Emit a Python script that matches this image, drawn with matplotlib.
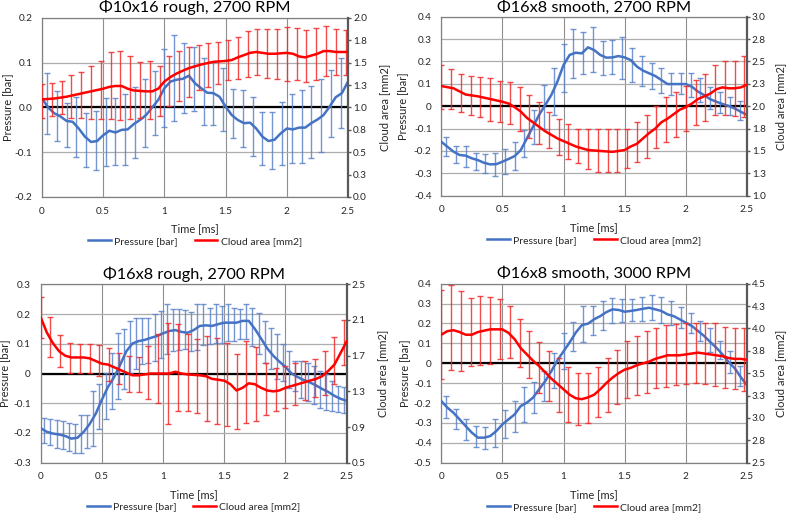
import matplotlib
matplotlib.use("Agg")
import matplotlib.pyplot as plt
from matplotlib.lines import Line2D
import numpy as np

plt.rcParams["font.family"] = ["Lato", "DejaVu Sans"]

BLUE = "#4472C4"
BLUE_ERR = "#5B84CC"
RED = "#FF0000"
RED_ERR = "#F22A2A"
GRID_V = "#8F8F8F"
GRID_H = "#ADADAD"
TXT = "#262626"

X_TICKS = [0, 0.5, 1, 1.5, 2, 2.5]
X_LABELS = ["0", "0.5", "1", "1.5", "2", "2.5"]

# sampling times
T_LINE = [0.00, 0.05, 0.10, 0.15, 0.20, 0.25, 0.30, 0.35, 0.40, 0.45,
          0.50, 0.55, 0.60, 0.65, 0.70, 0.75, 0.80, 0.85, 0.90, 0.95,
          1.00, 1.05, 1.10, 1.15, 1.20, 1.25, 1.30, 1.35, 1.40, 1.45,
          1.50, 1.55, 1.60, 1.65, 1.70, 1.75, 1.80, 1.85, 1.90, 1.95,
          2.00, 2.05, 2.10, 2.15, 2.20, 2.25, 2.30, 2.35, 2.40, 2.45, 2.50]
T_ERR_P = [0.04, 0.12, 0.20, 0.28, 0.36, 0.44, 0.52, 0.60, 0.68, 0.76,
           0.84, 0.92, 1.00, 1.08, 1.16, 1.24, 1.32, 1.40, 1.48, 1.56,
           1.64, 1.72, 1.80, 1.88, 1.96, 2.04, 2.12, 2.20, 2.28, 2.36, 2.44]
T_ERR_C = [0.00, 0.08, 0.16, 0.24, 0.32, 0.40, 0.48, 0.56, 0.64, 0.72,
           0.80, 0.88, 0.96, 1.04, 1.12, 1.20, 1.28, 1.36, 1.44, 1.52,
           1.60, 1.68, 1.76, 1.84, 1.92, 2.00, 2.08, 2.16, 2.24, 2.32,
           2.40, 2.48]
T_ERR_DENSE = [0.03, 0.08, 0.13, 0.18, 0.23, 0.28, 0.33, 0.38, 0.43, 0.48,
               0.53, 0.58, 0.63, 0.68, 0.73, 0.78, 0.83, 0.88, 0.93, 0.98,
               1.03, 1.08, 1.13, 1.18, 1.23, 1.28, 1.33, 1.38, 1.43, 1.48,
               1.53, 1.58, 1.63, 1.68, 1.73, 1.78, 1.83, 1.88, 1.93, 1.98,
               2.03, 2.08, 2.13, 2.18, 2.23, 2.28, 2.33, 2.38, 2.43, 2.48]

# ---------------- panel 1 ----------------
P1_TITLE = "Φ10x16 rough, 2700 RPM"
P1_PRES = [0.020, 0.000, -0.013, -0.020, -0.030, -0.032, -0.047, -0.065, -0.077, -0.075,
           -0.062, -0.052, -0.056, -0.050, -0.049, -0.037, -0.028, -0.017, 0.000, 0.017,
           0.043, 0.058, 0.062, 0.064, 0.071, 0.054, 0.043, 0.033, 0.032, 0.024,
           0.002, -0.017, -0.028, -0.035, -0.034, -0.047, -0.065, -0.075, -0.072, -0.058,
           -0.047, -0.049, -0.045, -0.045, -0.035, -0.027, -0.017, 0.002, 0.023, 0.032, 0.058]
P1_PRES_HI = [0.078, 0.037, 0.009, 0.023, -0.012, -0.008, 0.021, 0.021, 0.030, 0.045,
              0.064, 0.082, 0.131, 0.163, 0.145, 0.136, 0.110, 0.101, 0.089, 0.041,
              0.038, 0.024, -0.009, -0.009, 0.012, 0.030, 0.038, 0.048, 0.064, 0.083, 0.110]
P1_PRES_LO = [-0.059, -0.074, -0.088, -0.110, -0.134, -0.140, -0.131, -0.129, -0.129, -0.112,
              -0.089, -0.062, -0.044, -0.030, -0.013, -0.008, -0.039, -0.039, -0.053, -0.069,
              -0.088, -0.109, -0.129, -0.138, -0.128, -0.124, -0.123, -0.113, -0.099, -0.065, -0.045]
P1_CLOUD_T = [0, 0.1, 0.2, 0.3, 0.4, 0.5, 0.55, 0.6, 0.65, 0.7, 0.75, 0.8, 0.85, 0.9,
              0.95, 1.0, 1.05, 1.1, 1.15, 1.2, 1.3, 1.4, 1.5, 1.55, 1.6, 1.7, 1.75, 1.8,
              1.85, 1.9, 2.0, 2.05, 2.1, 2.15, 2.2, 2.25, 2.3, 2.35, 2.4, 2.5]
P1_CLOUD = [1.09, 1.10, 1.12, 1.15, 1.18, 1.21, 1.23, 1.24, 1.24, 1.21, 1.19, 1.185, 1.18, 1.18,
            1.21, 1.29, 1.34, 1.38, 1.41, 1.44, 1.48, 1.51, 1.52, 1.53, 1.56, 1.61, 1.62, 1.61,
            1.60, 1.60, 1.61, 1.60, 1.57, 1.56, 1.58, 1.60, 1.63, 1.63, 1.62, 1.62]
P1_CLOUD_HI = [1.26, 1.27, 1.30, 1.36, 1.40, 1.46, 1.52, 1.62, 1.63, 1.57, 1.51, 1.52, 1.46, 1.57,
               1.63, 1.67, 1.70, 1.72, 1.73, 1.75, 1.79, 1.85, 1.88, 1.88, 1.88, 1.90, 1.89, 1.87,
               1.89, 1.91, 1.88, 1.86]
P1_CLOUD_LO = [0.88, 0.90, 0.93, 0.88, 0.88, 0.87, 0.87, 0.87, 0.86, 0.87, 0.88, 0.87, 0.90, 1.02,
               1.07, 1.12, 1.20, 1.23, 1.26, 1.31, 1.32, 1.34, 1.36, 1.33, 1.32, 1.30, 1.31, 1.29,
               1.31, 1.35, 1.36, 1.36]
P1_LEFT_TICKS = [-0.2, -0.1, 0.0, 0.1, 0.2]
P1_LEFT_LABELS = ["-0.2", "-0.1", "0.0", "0.1", "0.2"]
P1_RIGHT_TICKS = [0.0, 0.25, 0.5, 0.75, 1.0, 1.25, 1.5, 1.75, 2.0]
P1_RIGHT_LABELS = ["0.0", "0.3", "0.5", "0.8", "1.0", "1.3", "1.5", "1.8", "2.0"]

# ---------------- panel 2 ----------------
P2_TITLE = "Φ16x8 smooth, 2700 RPM"
P2_PRES = [-0.159, -0.181, -0.203, -0.218, -0.221, -0.233, -0.241, -0.253, -0.260, -0.259,
           -0.248, -0.236, -0.223, -0.196, -0.144, -0.092, -0.039, 0.005, 0.050, 0.110,
           0.184, 0.229, 0.239, 0.236, 0.263, 0.251, 0.229, 0.217, 0.218, 0.224,
           0.218, 0.206, 0.177, 0.159, 0.147, 0.135, 0.117, 0.099, 0.099, 0.099,
           0.099, 0.087, 0.065, 0.050, 0.031, 0.020, 0.010, 0.001, -0.010, -0.025, -0.039]
P2_PRES_HI = [-0.136, -0.177, -0.179, -0.208, -0.214, -0.208, -0.192, -0.162, -0.107, -0.017,
              0.095, 0.172, 0.276, 0.343, 0.330, 0.352, 0.290, 0.297, 0.307, 0.260,
              0.223, 0.195, 0.170, 0.150, 0.150, 0.147, 0.124, 0.087, 0.062, 0.042, 0.022]
P2_PRES_LO = [-0.221, -0.256, -0.271, -0.286, -0.300, -0.311, -0.303, -0.286, -0.229, -0.169,
              -0.104, -0.039, 0.065, 0.124, 0.144, 0.154, 0.140, 0.145, 0.122, 0.109,
              0.090, 0.077, 0.060, 0.052, 0.055, 0.040, 0.018, -0.012, -0.030, -0.040, -0.062]
P2_CLOUD_T = [0, 0.1, 0.2, 0.3, 0.4, 0.5, 0.55, 0.6, 0.65, 0.7, 0.75, 0.8, 0.85, 0.9,
              0.95, 1.0, 1.05, 1.1, 1.15, 1.2, 1.3, 1.4, 1.5, 1.55, 1.6, 1.65, 1.7, 1.75,
              1.8, 1.85, 1.9, 1.95, 2.0, 2.05, 2.1, 2.15, 2.2, 2.25, 2.3, 2.35, 2.4, 2.45, 2.5]
P2_CLOUD = [2.225, 2.20, 2.13, 2.11, 2.08, 2.05, 2.03, 1.99, 1.94, 1.87, 1.82, 1.77, 1.72, 1.68,
            1.64, 1.61, 1.58, 1.55, 1.53, 1.51, 1.50, 1.49, 1.51, 1.55, 1.58, 1.64, 1.70, 1.75,
            1.82, 1.86, 1.91, 1.96, 1.99, 2.03, 2.08, 2.11, 2.14, 2.19, 2.21, 2.20, 2.20, 2.21, 2.24]
P2_CLOUD_HI = [2.46, 2.41, 2.36, 2.34, 2.33, 2.31, 2.28, 2.27, 2.21, 2.12, 2.05, 1.94, 1.86, 1.80,
               1.75, 1.74, 1.74, 1.74, 1.74, 1.74, 1.82, 1.90, 2.00, 2.10, 2.16, 2.23, 2.29, 2.36,
               2.46, 2.51, 2.51, 2.56]
P2_CLOUD_LO = [1.97, 1.965, 1.935, 1.90, 1.88, 1.84, 1.82, 1.80, 1.72, 1.64, 1.58, 1.53, 1.45, 1.41,
               1.36, 1.30, 1.27, 1.26, 1.27, 1.31, 1.38, 1.42, 1.53, 1.60, 1.66, 1.72, 1.79, 1.84,
               1.90, 1.90, 1.89, 1.88]
P2_LEFT_TICKS = [-0.4, -0.3, -0.2, -0.1, 0.0, 0.1, 0.2, 0.3, 0.4]
P2_LEFT_LABELS = ["-0.4", "-0.3", "-0.2", "-0.1", "0", "0.1", "0.2", "0.3", "0.4"]
P2_RIGHT_TICKS = [1.0, 1.25, 1.5, 1.75, 2.0, 2.25, 2.5, 2.75, 3.0]
P2_RIGHT_LABELS = ["1.0", "1.3", "1.5", "1.8", "2.0", "2.3", "2.5", "2.8", "3.0"]

# ---------------- panel 3 ----------------
P3_TITLE = "Φ16x8 rough, 2700 RPM"
P3_PRES = [-0.184, -0.196, -0.202, -0.205, -0.210, -0.219, -0.216, -0.197, -0.170, -0.135,
           -0.088, -0.045, -0.012, 0.030, 0.075, 0.101, 0.109, 0.113, 0.120, 0.126,
           0.135, 0.143, 0.146, 0.140, 0.137, 0.146, 0.160, 0.162, 0.160, 0.166,
           0.171, 0.171, 0.171, 0.177, 0.177, 0.150, 0.118, 0.085, 0.060, 0.040,
           0.022, 0.000, -0.012, -0.022, -0.030, -0.040, -0.052, -0.062, -0.075, -0.085, -0.092]
P3_PRES_HI = [-0.149, -0.154, -0.158, -0.160, -0.165, -0.171, -0.141, -0.138, -0.059, -0.035,
              0.003, 0.070, 0.137, 0.149, 0.177, 0.188, 0.188, 0.188, 0.199, 0.210,
              0.235, 0.218, 0.216, 0.213, 0.207, 0.235, 0.235, 0.221, 0.235, 0.227,
              0.235, 0.221, 0.216, 0.235, 0.221, 0.205, 0.177, 0.154, 0.132, 0.098,
              0.076, 0.042, 0.042, 0.036, 0.025, 0.008, -0.003, -0.025, -0.042, -0.045]
P3_PRES_LO = [-0.233, -0.240, -0.249, -0.253, -0.261, -0.266, -0.266, -0.252, -0.244, -0.185,
              -0.154, -0.118, -0.087, -0.053, 0.003, 0.014, 0.031, 0.036, 0.042, 0.053,
              0.064, 0.076, 0.079, 0.081, 0.076, 0.078, 0.095, 0.098, 0.101, 0.104,
              0.109, 0.109, 0.117, 0.117, 0.092, 0.064, 0.036, 0.014, -0.020, -0.025,
              -0.048, -0.059, -0.081, -0.093, -0.104, -0.115, -0.123, -0.126, -0.129, -0.132]
P3_CLOUD_T = [0, 0.05, 0.1, 0.15, 0.2, 0.25, 0.3, 0.35, 0.4, 0.45, 0.5, 0.55, 0.6, 0.65,
              0.7, 0.75, 0.8, 0.85, 0.9, 1.0, 1.05, 1.1, 1.15, 1.2, 1.3, 1.35, 1.4, 1.45,
              1.5, 1.55, 1.6, 1.65, 1.7, 1.75, 1.8, 1.85, 1.9, 1.95, 2.0, 2.05, 2.1, 2.15,
              2.2, 2.25, 2.3, 2.35, 2.4, 2.45, 2.5]
P3_CLOUD = [2.13, 1.96, 1.84, 1.75, 1.70, 1.68, 1.68, 1.68, 1.67, 1.64, 1.61, 1.60, 1.57, 1.54,
            1.51, 1.48, 1.48, 1.49, 1.50, 1.50, 1.50, 1.52, 1.50, 1.49, 1.48, 1.47, 1.44, 1.43,
            1.42, 1.38, 1.31, 1.34, 1.39, 1.38, 1.34, 1.31, 1.30, 1.31, 1.34, 1.36, 1.38, 1.40,
            1.42, 1.44, 1.47, 1.53, 1.60, 1.73, 1.86]
P3_CLOUD_HI = [2.36, 2.13, 1.93, 1.84, 1.83, 1.83, 1.82, 1.79, 1.73, 1.70, 1.68, 1.81, 1.94, 2.07,
               2.05, 1.94, 1.89, 1.92, 1.90, 1.84, 1.72, 1.86, 1.80, 1.62, 1.56, 1.58, 1.62, 1.64,
               1.66, 1.75, 1.91, 2.10]
P3_CLOUD_LO = [1.90, 1.69, 1.57, 1.51, 1.51, 1.51, 1.47, 1.42, 1.38, 1.29, 1.29, 1.21, 1.17, 0.93,
               1.08, 1.08, 1.06, 0.97, 0.93, 0.91, 0.88, 0.95, 0.97, 1.04, 1.08, 1.11, 1.15, 1.20,
               1.24, 1.26, 1.38, 1.60]
P3_LEFT_TICKS = [-0.3, -0.2, -0.1, 0.0, 0.1, 0.2, 0.3]
P3_LEFT_LABELS = ["-0.3", "-0.2", "-0.1", "0", "0.1", "0.2", "0.3"]
P3_RIGHT_TICKS = [0.5, 0.9, 1.3, 1.7, 2.1, 2.5]
P3_RIGHT_LABELS = ["0.5", "0.9", "1.3", "1.7", "2.1", "2.5"]

# ---------------- panel 4 ----------------
P4_TITLE = "Φ16x8 smooth, 3000 RPM"
P4_PRES = [-0.190, -0.223, -0.249, -0.282, -0.316, -0.349, -0.374, -0.374, -0.366, -0.341,
           -0.307, -0.282, -0.257, -0.215, -0.198, -0.173, -0.131, -0.090, -0.040, 0.015,
           0.060, 0.105, 0.154, 0.192, 0.199, 0.221, 0.237, 0.257, 0.271, 0.268,
           0.259, 0.263, 0.268, 0.274, 0.279, 0.271, 0.263, 0.246, 0.237, 0.221,
           0.204, 0.187, 0.162, 0.137, 0.107, 0.078, 0.045, 0.006, -0.025, -0.070, -0.110]
P4_PRES_HI = [-0.165, -0.228, -0.282, -0.315, -0.318, -0.282, -0.235, -0.190, -0.120, -0.095,
              -0.039, 0.053, 0.150, 0.209, 0.288, 0.288, 0.315, 0.328, 0.325, 0.325,
              0.333, 0.342, 0.333, 0.315, 0.282, 0.253, 0.214, 0.177, 0.114, 0.060, -0.015]
P4_PRES_LO = [-0.274, -0.329, -0.388, -0.421, -0.433, -0.419, -0.374, -0.344, -0.294, -0.249,
              -0.190, -0.126, -0.031, 0.061, 0.106, 0.141, 0.169, 0.203, 0.208, 0.211,
              0.214, 0.219, 0.203, 0.194, 0.177, 0.152, 0.111, 0.057, 0.022, -0.049, -0.116]
P4_CLOUD_T = [0, 0.05, 0.1, 0.15, 0.2, 0.25, 0.3, 0.4, 0.5, 0.55, 0.6, 0.65, 0.7, 0.75,
              0.8, 0.85, 0.9, 0.95, 1.0, 1.05, 1.1, 1.15, 1.2, 1.25, 1.3, 1.35, 1.4, 1.45,
              1.5, 1.55, 1.6, 1.65, 1.7, 1.75, 1.8, 1.85, 1.9, 1.95, 2.0, 2.05, 2.1, 2.15,
              2.2, 2.25, 2.3, 2.35, 2.4, 2.45, 2.5]
P4_CLOUD = [3.93, 3.97, 3.98, 3.96, 3.93, 3.93, 3.96, 3.99, 3.99, 3.95, 3.88, 3.78, 3.71, 3.64,
            3.58, 3.51, 3.44, 3.38, 3.32, 3.26, 3.22, 3.21, 3.23, 3.26, 3.32, 3.39, 3.45, 3.50,
            3.54, 3.56, 3.59, 3.61, 3.63, 3.66, 3.68, 3.70, 3.70, 3.70, 3.71, 3.72, 3.73, 3.72,
            3.71, 3.70, 3.69, 3.67, 3.66, 3.66, 3.65]
P4_CLOUD_HI = [4.43, 4.48, 4.42, 4.34, 4.36, 4.35, 4.33, 4.25, 4.10, 3.97, 3.85, 3.75, 3.67, 3.57,
               3.50, 3.50, 3.57, 3.67, 3.76, 3.86, 3.92, 3.97, 4.01, 4.04, 4.05, 4.06, 4.06, 4.06,
               4.06, 4.02, 4.01, 4.01]
P4_CLOUD_LO = [3.43, 3.54, 3.52, 3.58, 3.59, 3.60, 3.66, 3.67, 3.57, 3.45, 3.28, 3.19, 3.07, 2.96,
               2.92, 2.94, 3.01, 3.07, 3.16, 3.22, 3.26, 3.28, 3.33, 3.35, 3.37, 3.38, 3.39, 3.38,
               3.36, 3.34, 3.32, 3.30]
P4_LEFT_TICKS = [-0.5, -0.4, -0.3, -0.2, -0.1, 0.0, 0.1, 0.2, 0.3, 0.4]
P4_LEFT_LABELS = ["-0.5", "-0.4", "-0.3", "-0.2", "-0.1", "0", "0.1", "0.2", "0.3", "0.4"]
P4_RIGHT_TICKS = [2.5, 2.75, 3.0, 3.25, 3.5, 3.75, 4.0, 4.25, 4.5]
P4_RIGHT_LABELS = ["2.5", "2.8", "3.0", "3.3", "3.5", "3.8", "4.0", "4.3", "4.5"]


def draw_errorbars(ax, t, lo, hi, color):
    lo = np.asarray(lo)
    hi = np.asarray(hi)
    ax.errorbar(t, (lo + hi) / 2, yerr=(hi - lo) / 2, fmt="none", ecolor=color,
                elinewidth=1.0, capsize=2.3, capthick=1.0, alpha=0.85, zorder=2)


def draw_panel(fig, rect, p):
    ax = fig.add_axes(rect)
    ax.set_xlim(0, 2.5)
    ax.set_ylim(p["lt"][0], p["lt"][-1])
    ax.set_xticks(X_TICKS, X_LABELS)
    ax.set_yticks(p["lt"], p["ll"])
    ax.xaxis.grid(True, color=GRID_V, lw=0.8)
    ax.yaxis.grid(True, color=GRID_H, lw=0.9)
    ax.set_axisbelow(True)
    ax.tick_params(length=0, labelsize=7.2, labelcolor=TXT)
    ax.tick_params(axis="y", pad=7)
    ax.tick_params(axis="x", pad=7)
    for s in ["left", "top", "bottom"]:
        ax.spines[s].set_color("#808080")
        ax.spines[s].set_linewidth(0.9)
    ax.spines["right"].set_visible(False)

    ax.axhline(0, color="black", lw=1.6, zorder=1.5)
    draw_errorbars(ax, p["pet"], p["plo"], p["phi"], BLUE_ERR)
    ax.plot(p["pt"], p["pv"], color=BLUE, lw=1.8, zorder=3)

    ax2 = ax.twinx()
    ax2.set_ylim(p["rt"][0], p["rt"][-1])
    ax2.set_yticks(p["rt"], p["rl"])
    ax2.tick_params(axis="y", length=2.4, width=1, color="#595959", pad=1.2,
                    labelsize=7.2, labelcolor=TXT)
    for s in ["left", "top", "bottom"]:
        ax2.spines[s].set_visible(False)
    ax2.spines["right"].set_color("#595959")
    ax2.spines["right"].set_linewidth(1.6)
    draw_errorbars(ax2, p["cet"], p["clo"], p["chi"], RED_ERR)
    ax2.plot(p["ct"], p["cv"], color=RED, lw=1.8, zorder=3)

    ax.text(0.5, p["ty"], p["title"], transform=ax.transAxes, ha="center", va="baseline",
            fontsize=11.8, color="black")
    ax.text(p["plx"], 0.5, "Pressure [bar]", transform=ax.transAxes, rotation=90,
            ha="center", va="center", fontsize=8, color=TXT)
    ax.text(p["clx"], 0.5, "Cloud area [mm2]", transform=ax.transAxes, rotation=90,
            ha="center", va="center", fontsize=8, color=TXT)
    ax.text(0.5, -0.178, "Time [ms]", transform=ax.transAxes, ha="center", va="center",
            fontsize=8, color=TXT)

    handles = [Line2D([], [], color=BLUE, lw=1.8), Line2D([], [], color=RED, lw=1.8)]
    ax2.legend(handles, ["Pressure [bar]", "Cloud area [mm2]"], loc="center",
               bbox_to_anchor=(0.5, -0.248), ncol=2, frameon=False, fontsize=7.5,
               handlelength=2.2, handletextpad=0.3, columnspacing=1.6,
               labelcolor=TXT)


fig = plt.figure(figsize=(7.87, 5.13), dpi=100)

panels = [
    ([0.0534, 0.616, 0.3888, 0.349],
     dict(title=P1_TITLE, pt=T_LINE, pv=P1_PRES, pet=T_ERR_P, plo=P1_PRES_LO, phi=P1_PRES_HI,
          ct=P1_CLOUD_T, cv=P1_CLOUD, cet=T_ERR_C, clo=P1_CLOUD_LO, chi=P1_CLOUD_HI,
          lt=P1_LEFT_TICKS, ll=P1_LEFT_LABELS, rt=P1_RIGHT_TICKS, rl=P1_RIGHT_LABELS,
          plx=-0.114, clx=1.118, ty=1.036)),
    ([0.5607, 0.6185, 0.3884, 0.349],
     dict(title=P2_TITLE, pt=T_LINE, pv=P2_PRES, pet=T_ERR_P, plo=P2_PRES_LO, phi=P2_PRES_HI,
          ct=P2_CLOUD_T, cv=P2_CLOUD, cet=T_ERR_C, clo=P2_CLOUD_LO, chi=P2_CLOUD_HI,
          lt=P2_LEFT_TICKS, ll=P2_LEFT_LABELS, rt=P2_RIGHT_TICKS, rl=P2_RIGHT_LABELS,
          plx=-0.125, clx=1.111, ty=1.028)),
    ([0.0517, 0.098, 0.3888, 0.3478],
     dict(title=P3_TITLE, pt=T_LINE, pv=P3_PRES, pet=T_ERR_DENSE, plo=P3_PRES_LO, phi=P3_PRES_HI,
          ct=P3_CLOUD_T, cv=P3_CLOUD, cet=T_ERR_C, clo=P3_CLOUD_LO, chi=P3_CLOUD_HI,
          lt=P3_LEFT_TICKS, ll=P3_LEFT_LABELS, rt=P3_RIGHT_TICKS, rl=P3_RIGHT_LABELS,
          plx=-0.117, clx=1.118, ty=1.032)),
    ([0.5607, 0.098, 0.3884, 0.349],
     dict(title=P4_TITLE, pt=T_LINE, pv=P4_PRES, pet=T_ERR_P, plo=P4_PRES_LO, phi=P4_PRES_HI,
          ct=P4_CLOUD_T, cv=P4_CLOUD, cet=T_ERR_C, clo=P4_CLOUD_LO, chi=P4_CLOUD_HI,
          lt=P4_LEFT_TICKS, ll=P4_LEFT_LABELS, rt=P4_RIGHT_TICKS, rl=P4_RIGHT_LABELS,
          plx=-0.12, clx=1.111, ty=1.034)),
]

for rect, p in panels:
    draw_panel(fig, rect, p)

fig.savefig("out.png", dpi=100)
